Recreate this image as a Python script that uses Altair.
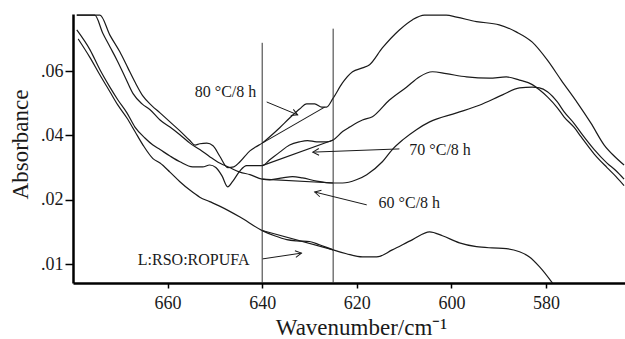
import math
import json
import altair as alt
import pandas as pd

# ---------------- data (wavenumber cm-1, absorbance in axis units: 1=.01, 2=.02, 3=.04, 4=.06) ----------------
WN_80 = [679.2, 674.3, 672.2, 670.1, 668.4, 666.9, 665.2, 663.3, 661.6, 659.5, 657.4, 655.3, 654.2, 653.2,
         651.7, 650.4, 649.0, 647.3, 646.0, 644.7, 642.6, 641.4, 640.0, 638.4, 636.3, 634.2, 632.1, 630.6,
         628.9, 627.4, 626.4, 625.0, 623.0, 620.9, 618.8, 617.3, 614.6, 611.0, 608.2, 605.7, 601.1, 598.9,
         594.7, 589.9, 586.3, 582.9, 579.7, 576.8, 573.4, 570.5, 567.7, 565.6, 563.5]
A_80 = [4.87, 4.87, 4.56, 4.30, 4.05, 3.83, 3.61, 3.46, 3.35, 3.21, 3.07, 2.92, 2.85, 2.87,
        2.88, 2.84, 2.68, 2.50, 2.51, 2.59, 2.76, 2.82, 2.88, 2.98, 3.12, 3.27, 3.41, 3.49,
        3.49, 3.44, 3.44, 3.58, 3.82, 3.99, 4.05, 4.10, 4.36, 4.64, 4.80, 4.87, 4.87, 4.84,
        4.77, 4.72, 4.61, 4.45, 4.17, 3.86, 3.51, 3.19, 2.85, 2.68, 2.54]

WN_70 = [679.2, 676.4, 674.3, 672.2, 670.5, 668.6, 666.9, 664.8, 663.1, 661.6, 659.5, 657.4, 654.7, 652.6,
         651.1, 649.8, 648.5, 647.3, 646.2, 644.7, 643.3, 640.0, 638.4, 636.3, 634.2, 632.1, 630.4, 628.5,
         626.4, 625.0, 623.0, 621.5, 618.8, 616.7, 613.1, 609.5, 606.8, 604.0, 601.1, 596.8, 592.0, 588.4,
         585.6, 582.9, 581.4, 579.7, 577.6, 576.2, 574.0, 572.6, 569.8, 567.1, 565.2, 563.5]
A_70 = [4.64, 4.33, 4.02, 3.75, 3.55, 3.35, 3.13, 2.96, 2.85, 2.78, 2.68, 2.59, 2.51, 2.51,
        2.54, 2.50, 2.37, 2.20, 2.29, 2.45, 2.53, 2.53, 2.62, 2.74, 2.85, 2.90, 2.92, 2.90,
        2.90, 2.93, 3.06, 3.13, 3.24, 3.29, 3.55, 3.75, 3.91, 3.99, 3.96, 3.91, 3.89, 3.91,
        3.86, 3.79, 3.71, 3.60, 3.43, 3.29, 3.12, 2.98, 2.71, 2.50, 2.36, 2.22]

WN_60 = [679.2, 675.4, 673.7, 672.2, 670.7, 669.0, 667.3, 665.4, 663.7, 661.6, 659.5, 657.4, 655.3, 653.2,
         651.1, 649.0, 646.9, 644.7, 642.6, 640.0, 638.4, 635.7, 633.6, 631.5, 628.5, 625.0, 623.0, 620.1,
         617.9, 614.6, 612.5, 610.3, 607.4, 604.6, 598.9, 594.1, 589.2, 585.6, 582.9, 581.4, 579.7, 577.6,
         576.2, 574.0, 572.6, 569.8, 567.1, 565.2, 563.5]
A_60 = [4.87, 4.87, 4.59, 4.38, 4.17, 3.91, 3.65, 3.49, 3.40, 3.24, 3.13, 3.01, 2.88, 2.78,
        2.67, 2.57, 2.50, 2.43, 2.39, 2.32, 2.31, 2.34, 2.36, 2.34, 2.29, 2.26, 2.26, 2.31,
        2.39, 2.59, 2.78, 2.93, 3.09, 3.21, 3.35, 3.47, 3.63, 3.74, 3.75, 3.74, 3.68, 3.52,
        3.37, 3.18, 3.04, 2.78, 2.57, 2.45, 2.32]

WN_L = [678.9, 676.4, 674.3, 672.2, 670.5, 668.6, 666.9, 665.2, 663.1, 661.6, 659.5, 657.4, 655.3, 653.2,
        651.1, 649.0, 644.7, 640.0, 637.4, 634.8, 632.7, 630.0, 627.9, 625.0, 622.2, 618.8, 615.8, 612.5,
        608.2, 604.6, 601.9, 598.3, 594.7, 591.4, 588.4, 585.6, 583.5, 581.4, 578.7, 577.2]
A_L = [4.50, 4.21, 3.94, 3.68, 3.47, 3.27, 3.06, 2.85, 2.64, 2.57, 2.43, 2.28, 2.15, 2.04,
       1.97, 1.90, 1.73, 1.52, 1.44, 1.38, 1.36, 1.35, 1.30, 1.22, 1.16, 1.11, 1.11, 1.22,
       1.38, 1.50, 1.44, 1.33, 1.27, 1.25, 1.24, 1.19, 1.11, 0.96, 0.71, 0.55]

# baseline chords drawn between the two marker lines
CHORD_WN_START = [640.0, 640.0, 640.0, 640.0]
CHORD_WN_END = [626.8, 625.0, 625.0, 625.0]
CHORD_A_START = [2.88, 2.53, 2.32, 1.52]
CHORD_A_END = [3.44, 2.93, 2.26, 1.22]

# vertical marker lines
MARK_WN = [640.0, 625.0]
MARK_TOP = [4.44, 4.66]

# annotations
LABELS = ["80 °C/8 h", "70 °C/8 h", "60 °C/8 h", "L:RSO:ROPUFA"]
LABEL_WN = [654.25, 608.9, 615.4, 666.3]
LABEL_A = [3.60, 2.70, 1.87, 0.99]
ARROW_WN_FROM = [639.05, 611.0, 617.9, 639.9]
ARROW_A_FROM = [3.52, 2.79, 1.92, 1.08]
ARROW_WN_TO = [632.5, 629.3, 628.9, 631.7]
ARROW_A_TO = [3.32, 2.74, 2.12, 1.17]

# axes
X_MIN, X_MAX = 563.3, 680.0
Y_MIN, Y_MAX = 0.705, 4.888
X_TICKS = [660, 640, 620, 600, 580]
Y_TICKS = [1, 2, 3, 4]
Y_TICK_LABELS = [".01", ".02", ".04", ".06"]

# ---------------- styling ----------------
W, H = 552, 269
FONT = "Liberation Serif"
INK = "#1a1a1a"

rows = []
for name, wn, a in [("80", WN_80, A_80), ("70", WN_70, A_70), ("60", WN_60, A_60), ("L", WN_L, A_L)]:
    for w_, v in zip(wn, a):
        rows.append({"series": name, "wn": w_, "a": v})
curves = pd.DataFrame(rows)

chords = pd.DataFrame({"wn": CHORD_WN_START, "wn2": CHORD_WN_END, "a": CHORD_A_START, "a2": CHORD_A_END})
marks = pd.DataFrame({"wn": MARK_WN, "a": MARK_TOP, "a2": [Y_MIN] * len(MARK_WN)})
labels = pd.DataFrame({"text": LABELS, "wn": LABEL_WN, "a": LABEL_A})

px_x = W / (X_MAX - X_MIN)
px_y = H / (Y_MAX - Y_MIN)
angles = []
for wf, af, wt, at in zip(ARROW_WN_FROM, ARROW_A_FROM, ARROW_WN_TO, ARROW_A_TO):
    dx = -(wt - wf) * px_x
    dy = -(at - af) * px_y
    angles.append(math.degrees(math.atan2(dy, dx)) % 360)
arrows = pd.DataFrame({"wn": ARROW_WN_FROM, "a": ARROW_A_FROM, "wn2": ARROW_WN_TO, "a2": ARROW_A_TO,
                       "angle": angles})

x_scale = alt.Scale(domain=[X_MIN, X_MAX], reverse=True, nice=False, zero=False)
y_scale = alt.Scale(domain=[Y_MIN, Y_MAX], nice=False, zero=False)

label_expr = ("[" + ",".join(f"'{s}'" for s in Y_TICK_LABELS) + "][indexof("
              + json.dumps(Y_TICKS) + ", datum.value)]")

x_axis = alt.Axis(values=X_TICKS, format="d", title="Wavenumber/cm⁻¹", titleX=288, titleY=51,
                  titleBaseline="alphabetic", tickSize=5, labelPadding=6)
y_axis = alt.Axis(values=Y_TICKS, labelExpr=label_expr, title="Absorbance", titleX=-46, titleY=130,
                  titleBaseline="alphabetic", tickSize=8, labelPadding=2)


def X(field):
    return alt.X(field, type="quantitative", scale=x_scale, axis=x_axis)


def Y(field):
    return alt.Y(field, type="quantitative", scale=y_scale, axis=y_axis)


base_lines = alt.Chart(curves).mark_line(clip=True, strokeWidth=1.2, color=INK,
                                         interpolate="monotone").encode(
    x=X("wn"), y=Y("a"), detail="series:N",
)

chord_layer = alt.Chart(chords).mark_rule(strokeWidth=1.1, color=INK).encode(
    x=X("wn"), x2="wn2:Q", y=Y("a"), y2="a2:Q",
)

mark_layer = alt.Chart(marks).mark_rule(strokeWidth=1, color="#333333").encode(
    x=X("wn"), y=Y("a"), y2="a2:Q",
)

arrow_lines = alt.Chart(arrows).mark_rule(strokeWidth=1, color=INK).encode(
    x=X("wn"), x2="wn2:Q", y=Y("a"), y2="a2:Q",
)

ARROW_PATH = "M -1 -0.55 L 0 0 L -1 0.55"
arrow_heads = alt.Chart(arrows).mark_point(shape=ARROW_PATH, filled=False, size=150, strokeWidth=1,
                                           color=INK, opacity=1).encode(
    x=X("wn2"), y=Y("a2"),
    angle=alt.Angle("angle:Q", scale=None),
)

text_layer = alt.Chart(labels).mark_text(align="left", baseline="alphabetic", font=FONT, fontSize=16,
                                         color=INK).encode(
    x=X("wn"), y=Y("a"), text="text:N",
)

chart = alt.layer(base_lines, mark_layer, chord_layer, arrow_lines, arrow_heads, text_layer).properties(
    width=W, height=H,
    autosize=alt.AutoSizeParams(type="none"),
    padding={"left": 73, "top": 14, "right": 0, "bottom": 56},
    background="white",
).configure_view(stroke=None).configure_axis(
    grid=False,
    domainColor="black", domainWidth=2.5,
    tickColor="black", tickWidth=1.5,
    labelFont=FONT, labelFontSize=18, labelColor=INK,
    titleFont=FONT, titleFontSize=23, titleFontWeight="normal", titleColor=INK,
)

chart.save("out.html", embed_options={"renderer": "svg", "actions": False})
